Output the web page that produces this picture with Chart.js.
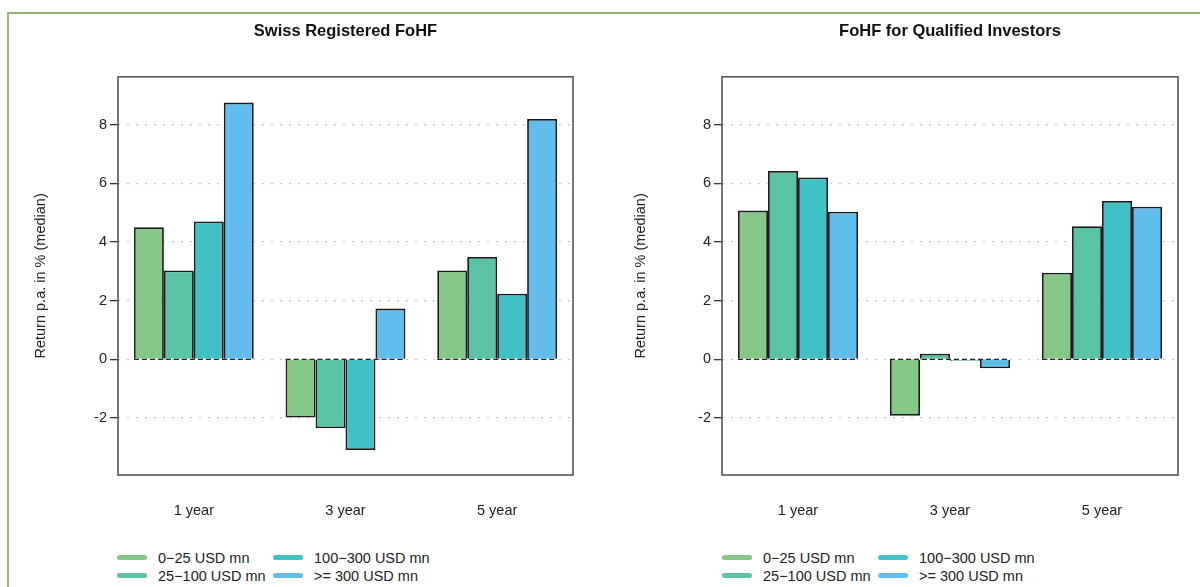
<!DOCTYPE html>
<html lang="en">
<head>
    <meta charset="UTF-8">
    <title>FoHF returns by size</title>
    <script src="https://cdn.jsdelivr.net/npm/chart.js"></script>
    <style>
        body { margin: 0; background: #fff; font-family: "Liberation Sans", Arial, sans-serif; }
        .frame { position: absolute; left: 7px; top: 12px; width: 1300px; height: 700px;
                 border-left: 2px solid #9db77f; border-top: 2px solid #93b270; }
        .panel { position: absolute; top: 0; width: 600px; height: 540px; }
        .legend { position: absolute; top: 549px; display: grid; grid-template-columns: 156px 170px;
                  row-gap: 1px; font-size: 14.5px; color: #222; }
        .legend div { display: flex; align-items: center; height: 17px; white-space: nowrap; }
        .legend span.sw { display: inline-block; width: 30px; height: 5px; border-radius: 3px; margin-right: 11px; }
    </style>
</head>
<body>
<div class="frame"></div>
<div class="panel" style="left:0"><canvas id="swiss" width="600" height="540"></canvas></div>
<div class="panel" style="left:600px"><canvas id="qualified" width="600" height="540"></canvas></div>
<div class="legend" id="legend-swiss" style="left:117px"></div>
<div class="legend" id="legend-qualified" style="left:722px"></div>

<script>
    // categories and series
    const categories = ['1 year', '3 year', '5 year'];
    const seriesNames = ['0\u221225 USD mn', '25\u2212100 USD mn', '100\u2212300 USD mn', '>= 300 USD mn'];
    const seriesColors = ['#85c787', '#5bc2a5', '#41c0c5', '#62bdec'];

    // Swiss Registered FoHF (median return p.a. in %)
    const swissSmall = [4.50, -1.98, 3.03];
    const swissMid = [3.03, -2.35, 3.49];
    const swissLarge = [4.70, -3.09, 2.24];
    const swissXL = [8.75, 1.73, 8.19];

    // FoHF for Qualified Investors
    const qualSmall = [5.07, -1.92, 2.95];
    const qualMid = [6.42, 0.19, 4.54];
    const qualLarge = [6.20, -0.05, 5.40];
    const qualXL = [5.03, -0.30, 5.20];

    const yTicks = [-2, 0, 2, 4, 6, 8];
    const yMin = -3.94;
    const yMax = 9.63;

    // box around the plot region
    const boxPlugin = {
        id: 'box',
        afterDraw(chart) {
            const a = chart.chartArea, ctx = chart.ctx;
            ctx.save();
            ctx.strokeStyle = '#555';
            ctx.lineWidth = 1.6;
            ctx.strokeRect(a.left, a.top, a.right - a.left, a.bottom - a.top);
            ctx.restore();
        }
    };

    // dashed base line under each group of bars
    const baseLinePlugin = {
        id: 'baseLine',
        afterDatasetsDraw(chart) {
            const ctx = chart.ctx;
            const y0 = chart.scales.y.getPixelForValue(0);
            ctx.save();
            ctx.strokeStyle = '#222';
            ctx.lineWidth = 1.4;
            ctx.setLineDash([5, 3]);
            categories.forEach((c, i) => {
                let left = Infinity, right = -Infinity;
                chart.data.datasets.forEach((ds, d) => {
                    const bar = chart.getDatasetMeta(d).data[i];
                    left = Math.min(left, bar.x - bar.width / 2);
                    right = Math.max(right, bar.x + bar.width / 2);
                });
                ctx.beginPath();
                ctx.moveTo(left, y0);
                ctx.lineTo(right, y0);
                ctx.stroke();
            });
            ctx.restore();
        }
    };

    function makePanel(id, title, series, yWidth, padRight) {
        new Chart(document.getElementById(id), {
            type: 'bar',
            data: {
                labels: categories,
                datasets: series.map((vals, i) => ({
                    label: seriesNames[i],
                    data: vals,
                    backgroundColor: seriesColors[i],
                    borderColor: '#1a1a1a',
                    borderWidth: 1.8,
                    categoryPercentage: 0.79,
                    barPercentage: 1.0
                }))
            },
            options: {
                responsive: false,
                animation: false,
                layout: { padding: { left: 25, right: padRight, top: 0, bottom: 0 } },
                plugins: {
                    legend: { display: false },
                    tooltip: { enabled: false },
                    title: {
                        display: true,
                        text: title,
                        fullSize: false,
                        color: '#111',
                        font: { family: 'Liberation Sans', size: 16.5, weight: 'bold' },
                        padding: { top: 22, bottom: 35 }
                    }
                },
                scales: {
                    x: {
                        grid: { display: false, drawTicks: false },
                        border: { display: false },
                        ticks: { color: '#222', padding: 27, font: { family: 'Liberation Sans', size: 14.5 } },
                        afterFit(scale) { scale.height = 65; }
                    },
                    y: {
                        min: yMin,
                        max: yMax,
                        z: 1,
                        afterBuildTicks(scale) { scale.ticks = yTicks.map(v => ({ value: v })); },
                        afterFit(scale) { scale.width = yWidth; },
                        grid: {
                            color: '#c4c4c4',
                            lineWidth: 1.3,
                            tickLength: 8,
                            tickColor: '#333',
                            tickWidth: 1.3,
                            tickBorderDash: []
                        },
                        border: { display: false, dash: [2, 7] },
                        ticks: { color: '#222', padding: 3, font: { family: 'Liberation Sans', size: 14.5 } },
                        title: {
                            display: true,
                            text: 'Return p.a. in % (median)',
                            color: '#222',
                            font: { family: 'Liberation Sans', size: 14.5 },
                            padding: { top: 7, bottom: 0 }
                        }
                    }
                }
            },
            plugins: [boxPlugin, baseLinePlugin]
        });
    }

    makePanel('swiss', 'Swiss Registered FoHF', [swissSmall, swissMid, swissLarge, swissXL], 93, 27);
    makePanel('qualified', 'FoHF for Qualified Investors', [qualSmall, qualMid, qualLarge, qualXL], 97, 22);

    // legend in two columns, filled column by column
    ['legend-swiss', 'legend-qualified'].forEach(id => {
        const box = document.getElementById(id);
        [0, 2, 1, 3].forEach(i => {
            const item = document.createElement('div');
            const sw = document.createElement('span');
            sw.className = 'sw';
            sw.style.background = seriesColors[i];
            item.appendChild(sw);
            item.appendChild(document.createTextNode(seriesNames[i]));
            box.appendChild(item);
        });
    });
</script>
</body>
</html>
